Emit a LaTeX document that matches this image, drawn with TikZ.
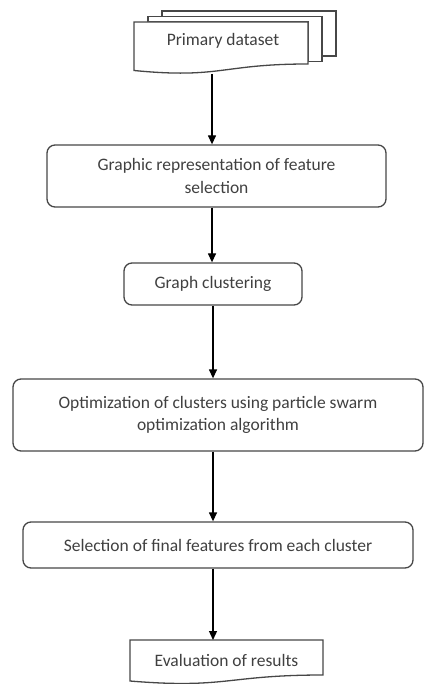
\documentclass[tikz,border=0pt]{standalone}
\usepackage{fontspec}
\setmainfont{Carlito}
\usetikzlibrary{arrows.meta}
\definecolor{linecol}{HTML}{474747}
\definecolor{textcol}{HTML}{404040}
\begin{document}
\begin{tikzpicture}[x=1pt,y=-1pt,
  every node/.style={text=textcol, font=\fontsize{17.5}{22.5}\selectfont},
  proc/.style={draw=linecol, line width=1.3pt, rounded corners=8pt, align=center, inner sep=0pt},
  sheet/.style={draw=linecol, line width=1.3pt, fill=white, line join=miter},
  arr/.style={draw=black, line width=1.3pt, -{Triangle[length=9pt,width=8pt]}}]
\useasboundingbox (0,0) rectangle (426,684);
% Primary dataset: stacked documents
\draw[sheet] (162,11) -- (336,11) -- (336,56) -- (322,56) -- (322,16.5) -- (162,16.5) -- cycle;
\draw[sheet] (148,16.5) -- (322,16.5) -- (322,61.5) -- (308,61.5) -- (308,22) -- (148,22) -- cycle;
\draw[sheet] (134,22) -- (308,22) -- (308,64) .. controls (221,64) and (221,79) .. (134,70.5) -- cycle;
\node (doc) at (223,41) {Primary dataset};
\coordinate (docb) at (212,74);
% process boxes
\node[proc, minimum width=339pt, minimum height=62pt] (b2) at (216.5,176) {Graphic representation of feature\\selection};
\node[proc, minimum width=178pt, minimum height=42pt] (b3) at (213,284) {Graph clustering};
\node[proc, minimum width=410pt, minimum height=72pt] (b4) at (218,415) {Optimization of clusters using particle swarm\\optimization algorithm};
\node[proc, minimum width=390pt, minimum height=46pt] (b5) at (218,545) {Selection of final features from each cluster};
% Evaluation document
\draw[sheet] (130,640) -- (323,640) -- (323,675) .. controls (226.5,675) and (226.5,689) .. (130,681) -- cycle;
\node (ev) at (226.5,660) {Evaluation of results};
\coordinate (evt) at (213,640);
% arrows
\draw[arr] (docb) -- (docb |- b2.north);
\draw[arr] (docb |- b2.south) -- (docb |- b3.north);
\draw[arr] (b3.south) -- (b3.south |- b4.north);
\draw[arr] (b3.south |- b4.south) -- (b3.south |- b5.north);
\draw[arr] (b3.south |- b5.south) -- (evt);
\end{tikzpicture}
\end{document}
